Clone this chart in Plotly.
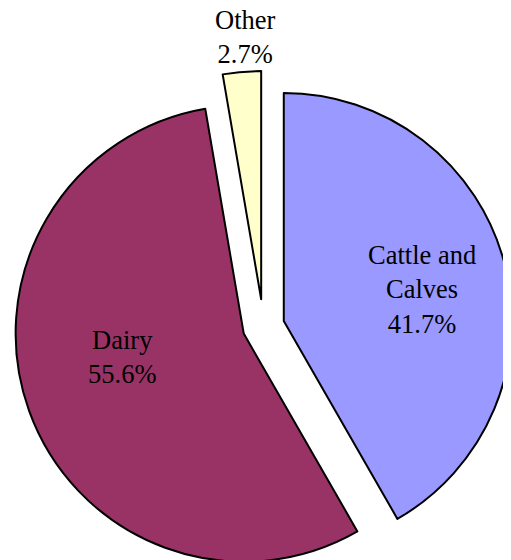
import plotly.graph_objects as go

labels = ["Cattle and<br>Calves", "Dairy", "Other"]
values = [41.7, 55.6, 2.7]
colors = ["#9999FF", "#993366", "#FFFFCC"]
pulls = [0.092, 0.092, 0.12]
# label anchor positions (paper fractions)
label_x = [0.810, 0.224, 0.464]
label_y = [0.573, 0.440, 1.066]

FONT = "Liberation Serif"

fig = go.Figure(go.Pie(
    labels=labels,
    values=values,
    sort=False,
    direction="clockwise",
    rotation=0,
    pull=pulls,
    marker=dict(colors=colors, line=dict(color="black", width=2)),
    textinfo="none",
    hoverinfo="label+percent",
    showlegend=False,
    domain=dict(x=[0, 1], y=[0, 1]),
))

total = sum(values)
for lab, v, lx, ly in zip(labels, values, label_x, label_y):
    fig.add_annotation(
        text=f"{lab}<br>{v / total * 100:.1f}%",
        x=lx, y=ly, xref="paper", yref="paper",
        xanchor="center", yanchor="middle", showarrow=False,
        font=dict(family=FONT, size=26.5, color="black"),
    )

fig.update_layout(
    width=511,
    height=575,
    margin=dict(l=0, r=0, t=63, b=1),
    paper_bgcolor="white",
    plot_bgcolor="white",
    showlegend=False,
)

fig.write_html("out.html")
